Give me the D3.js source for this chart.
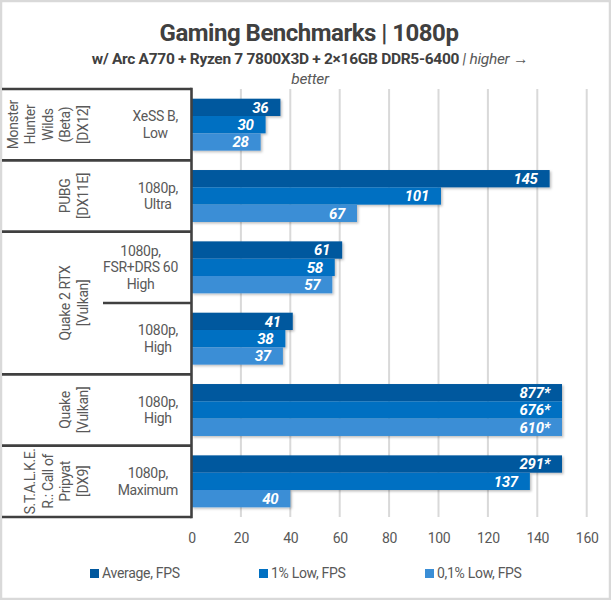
<!DOCTYPE html>
<html>
<head>
<meta charset="utf-8">
<script src="https://cdn.jsdelivr.net/npm/d3@7"></script>
<style>
  html, body { margin: 0; padding: 0; background: #fff; }
  svg { display: block; font-family: Roboto, "Noto Sans", sans-serif; }
</style>
</head>
<body>
<svg id="chart" width="611" height="600"></svg>
<script>
// ---- data ----
const titleText = "Gaming Benchmarks | 1080p";
const subtitleBold = "w/ Arc A770 + Ryzen 7 7800X3D + 2×16GB DDR5-6400";
const subtitleLight1 = " | higher →";
const subtitleLight2 = "better";

const gameLabels = [
  ["Monster", "Hunter", "Wilds", "(Beta)", "[DX12]"],
  ["PUBG", "[DX11E]"],
  ["Quake 2 RTX", "[Vulkan]"],
  ["Quake", "[Vulkan]"],
  ["S.T.A.L.K.E.", "R.: Call of", "Pripyat", "[DX9]"]
];
const gameRows = [1, 1, 2, 1, 1];
const settingLabels = [
  ["XeSS B,", "Low"],
  ["1080p,", "Ultra"],
  ["1080p,", "FSR+DRS 60", "High"],
  ["1080p,", "High"],
  ["1080p,", "High"],
  ["1080p,", "Maximum"]
];
const seriesNames = ["Average, FPS", "1% Low, FPS", "0,1% Low, FPS"];
const avgFps = [36, 145, 61, 41, 877, 291];
const low1Fps = [30, 101, 58, 38, 676, 137];
const low01Fps = [28, 67, 57, 37, 610, 40];
const axisMax = 160;
const barCap = 150;
const xTicks = [0, 20, 40, 60, 80, 100, 120, 140, 160];

// ---- layout ----
const colors = ["#00589e", "#0070c2", "#3a8ed6"];
const textGray = "#595959";
const dark = "#404040";
const svg = d3.select("#chart");

const plotTop = 89, plotBottom = 517;
const x = d3.scaleLinear().domain([0, axisMax]).range([191.5, 586.7]);
const rowIdx = settingLabels.map((d, i) => i);
const y = d3.scaleBand().domain(rowIdx).range([plotTop, plotBottom]).padding(0);
const ySeries = d3.scaleBand().domain([0, 1, 2]).range([0, y.bandwidth()]).paddingInner(0).paddingOuter(0.56);

// shadow filter
const defs = svg.append("defs");
const f = defs.append("filter").attr("id", "sh").attr("x", "-5%").attr("y", "-20%").attr("width", "115%").attr("height", "160%");
f.append("feDropShadow").attr("dx", 1.5).attr("dy", 1.5).attr("stdDeviation", 1.2).attr("flood-color", "#000").attr("flood-opacity", 0.25);

// outer frame
svg.append("rect").attr("x", 1).attr("y", 1).attr("width", 609).attr("height", 598)
  .attr("fill", "#fff").attr("stroke", "#d9d9d9").attr("stroke-width", 2.5);

// title
svg.append("text").attr("x", 309).attr("y", 41).attr("text-anchor", "middle")
  .attr("font-size", 24).attr("font-weight", 700).attr("fill", dark)
  .attr("letter-spacing", -0.5).text(titleText);

const sub = svg.append("text").attr("x", 310).attr("y", 64).attr("text-anchor", "middle")
  .attr("font-size", 15.5).attr("fill", dark).attr("letter-spacing", -0.3);
sub.append("tspan").attr("font-weight", 700).text(subtitleBold);
sub.append("tspan").attr("font-style", "italic").attr("fill", textGray).text(subtitleLight1);
svg.append("text").attr("x", 310).attr("y", 84).attr("text-anchor", "middle")
  .attr("font-size", 15.5).attr("font-style", "italic").attr("fill", textGray)
  .attr("letter-spacing", -0.3).text(subtitleLight2);

// gridlines
svg.append("g").selectAll("line").data(xTicks.filter(t => t > 0)).join("line")
  .attr("x1", d => x(d)).attr("x2", d => x(d))
  .attr("y1", plotTop).attr("y2", plotBottom)
  .attr("stroke", "#d9d9d9").attr("stroke-width", 2);

// x axis labels
const xAxis = d3.axisBottom(x).tickValues(xTicks).tickSize(0).tickPadding(0);
const gx = svg.append("g").attr("transform", `translate(0,${plotBottom + 22})`).call(xAxis);
gx.select(".domain").remove();
gx.selectAll("text").attr("font-size", 14).attr("fill", textGray)
  .attr("font-family", "Roboto, sans-serif").attr("dy", "0.32em").attr("letter-spacing", -0.3);

// bars
const series = [avgFps, low1Fps, low01Fps];
const barsData = [];
rowIdx.forEach(r => series.forEach((s, si) => barsData.push({ r, si, v: s[r] })));

const gb = svg.append("g");
gb.selectAll("rect").data(barsData).join("rect")
  .attr("x", x(0))
  .attr("y", d => y(d.r) + ySeries(d.si))
  .attr("width", d => x(Math.min(d.v, barCap)) - x(0))
  .attr("height", ySeries.bandwidth())
  .attr("fill", d => colors[d.si])
  .attr("filter", "url(#sh)");

gb.selectAll("text").data(barsData).join("text")
  .attr("x", d => x(Math.min(d.v, barCap)) - 12)
  .attr("y", d => y(d.r) + ySeries(d.si) + ySeries.bandwidth() / 2)
  .attr("dy", "0.36em").attr("text-anchor", "end")
  .attr("font-size", 15).attr("font-weight", 700).attr("font-style", "italic")
  .attr("fill", "#fff").attr("letter-spacing", -0.3)
  .text(d => d.v > barCap ? d.v + "*" : d.v);

// category box lines
const lineColor = "#404040";
const boxLeft = 2, boxRight = 191.5, subDivLeft = 103;
const gl = svg.append("g").attr("stroke", lineColor).attr("stroke-width", 2.6);
let acc = 0;
const gameStarts = gameRows.map(n => { const s = acc; acc += n; return s; });
const boundaries = [0].concat(gameStarts.map((s, i) => s + gameRows[i]));
gl.selectAll("line.h").data(boundaries).join("line").attr("class", "h")
  .attr("x1", boxLeft).attr("x2", boxRight)
  .attr("y1", d => d === 0 ? plotTop : y(d - 1) + y.bandwidth())
  .attr("y2", d => d === 0 ? plotTop : y(d - 1) + y.bandwidth());
const subDivs = [];
gameStarts.forEach((s, i) => { for (let k = 1; k < gameRows[i]; k++) subDivs.push(s + k); });
gl.selectAll("line.s").data(subDivs).join("line").attr("class", "s")
  .attr("x1", subDivLeft).attr("x2", boxRight)
  .attr("y1", d => y(d)).attr("y2", d => y(d));
gl.append("line").attr("x1", boxRight).attr("x2", boxRight).attr("y1", plotTop - 1.3).attr("y2", plotBottom + 1.3);

// game labels (rotated)
const lineStep = 17.5, lastLineX = 83;
gameLabels.forEach((lines, i) => {
  const s = gameStarts[i];
  const yc = y(s) + (y.bandwidth() * gameRows[i]) / 2;
  const n = lines.length;
  const t = svg.append("text")
    .attr("transform", `translate(${lastLineX - (n - 1) * lineStep},${yc}) rotate(-90)`)
    .attr("text-anchor", "middle").attr("font-size", 14).attr("fill", textGray)
    .attr("letter-spacing", -0.4);
  lines.forEach((ln, k) => {
    t.append("tspan").attr("x", 0).attr("y", k * lineStep).attr("dy", "0.35em").text(ln);
  });
});

// setting labels
const setRight = 178, setStep = 16.7;
settingLabels.forEach((lines, r) => {
  const g = svg.append("g");
  const yc = y(r) + y.bandwidth() / 2;
  const n = lines.length;
  const texts = lines.map((ln, k) => g.append("text")
    .attr("y", yc + (k - (n - 1) / 2) * setStep).attr("dy", "0.35em")
    .attr("text-anchor", "middle").attr("font-size", 14).attr("fill", textGray)
    .attr("letter-spacing", -0.3).text(ln));
  const maxW = d3.max(texts, t => t.node().getComputedTextLength());
  texts.forEach(t => t.attr("x", setRight - maxW / 2));
});

// legend
const legendX = [90, 259, 425];
const lg = svg.append("g");
seriesNames.forEach((name, i) => {
  lg.append("rect").attr("x", legendX[i]).attr("y", 569).attr("width", 9).attr("height", 9).attr("fill", colors[i]);
  lg.append("text").attr("x", legendX[i] + 12).attr("y", 573.5).attr("dy", "0.35em")
    .attr("font-size", 14).attr("fill", textGray).attr("letter-spacing", -0.3).text(name);
});
</script>
</body>
</html>
